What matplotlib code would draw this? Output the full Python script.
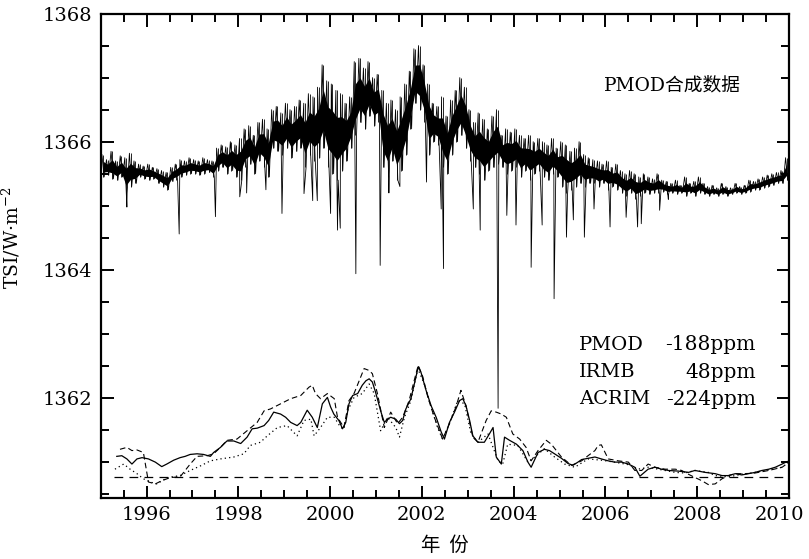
import numpy as np
import matplotlib
matplotlib.use("Agg")
import matplotlib.pyplot as plt
from matplotlib.ticker import MultipleLocator
from matplotlib.transforms import ScaledTranslation

plt.rcParams['font.family'] = ['DejaVu Serif', 'Noto Sans CJK SC']
plt.rcParams['mathtext.fontset'] = 'dejavuserif'

# PMOD composite: high / low of the daily band per 0.1 year
tsi_start = np.arange(1995.0, 2010.0, 0.1)
tsi_hi = [1365.80, 1365.72, 1365.85, 1365.70, 1365.78, 1365.75, 1365.82, 1365.70, 1365.65, 1365.62,
          1365.65, 1365.60, 1365.58, 1365.55, 1365.52, 1365.60, 1365.65, 1365.72, 1365.70, 1365.75,
          1365.72, 1365.70, 1365.75, 1365.72, 1365.70, 1365.90, 1365.95, 1365.92, 1366.00, 1365.95,
          1366.05, 1366.20, 1366.25, 1366.10, 1366.30, 1366.35, 1366.20, 1366.50, 1366.55, 1366.45,
          1366.60, 1366.50, 1366.55, 1366.65, 1366.60, 1366.75, 1366.70, 1366.85, 1367.20, 1366.95,
          1366.90, 1366.80, 1366.75, 1366.60, 1366.70, 1367.25, 1367.30, 1367.15, 1367.25, 1367.00,
          1367.05, 1366.80, 1366.60, 1366.65, 1366.50, 1366.70, 1366.90, 1367.10, 1367.45, 1367.50,
          1367.20, 1366.90, 1366.60, 1366.55, 1366.70, 1366.40, 1366.65, 1366.80, 1367.00, 1366.85,
          1366.50, 1366.30, 1366.45, 1366.35, 1366.20, 1366.40, 1366.50, 1366.10, 1366.20, 1366.15,
          1366.20, 1366.10, 1366.05, 1366.10, 1366.00, 1366.05, 1366.00, 1365.95, 1366.05, 1365.90,
          1366.00, 1365.95, 1365.85, 1365.90, 1366.00, 1365.80, 1365.75, 1365.72, 1365.70, 1365.65,
          1365.70, 1365.60, 1365.65, 1365.55, 1365.50, 1365.55, 1365.50, 1365.45, 1365.50, 1365.45,
          1365.42, 1365.50, 1365.40, 1365.38, 1365.35, 1365.40, 1365.32, 1365.45, 1365.35, 1365.38,
          1365.45, 1365.35, 1365.30, 1365.32, 1365.28, 1365.35, 1365.30, 1365.28, 1365.35, 1365.30,
          1365.32, 1365.40, 1365.38, 1365.42, 1365.45, 1365.48, 1365.50, 1365.52, 1365.55, 1365.75]
tsi_lo = [1365.45, 1365.48, 1365.42, 1365.40, 1365.45, 1365.20, 1365.30, 1365.35, 1365.45, 1365.42,
          1365.40, 1365.42, 1365.35, 1365.30, 1365.25, 1365.38, 1365.40, 1365.45, 1365.48, 1365.50,
          1365.50, 1365.48, 1365.50, 1365.52, 1365.45, 1365.55, 1365.60, 1365.50, 1365.55, 1365.45,
          1365.40, 1365.60, 1365.65, 1365.50, 1365.70, 1365.60, 1365.45, 1365.90, 1365.85, 1365.80,
          1365.90, 1365.75, 1365.85, 1365.90, 1365.60, 1365.80, 1365.70, 1365.75, 1365.90, 1365.60,
          1365.50, 1365.40, 1365.55, 1365.70, 1365.90, 1366.10, 1366.30, 1366.20, 1366.40, 1366.25,
          1366.30, 1365.60, 1365.45, 1365.70, 1365.40, 1365.55, 1365.80, 1366.20, 1366.60, 1366.50,
          1366.30, 1365.80, 1366.00, 1365.95, 1365.60, 1365.50, 1365.80, 1366.00, 1366.10, 1365.90,
          1365.70, 1365.60, 1365.50, 1365.40, 1365.55, 1365.60, 1365.65, 1365.60, 1365.50, 1365.55,
          1365.60, 1365.45, 1365.55, 1365.40, 1365.50, 1365.55, 1365.45, 1365.40, 1365.50, 1365.45,
          1365.30, 1365.20, 1365.25, 1365.30, 1365.35, 1365.30, 1365.35, 1365.35, 1365.30, 1365.35,
          1365.25, 1365.30, 1365.25, 1365.20, 1365.15, 1365.20, 1365.10, 1365.15, 1365.20, 1365.18,
          1365.20, 1365.20, 1365.22, 1365.18, 1365.20, 1365.18, 1365.20, 1365.15, 1365.20, 1365.15,
          1365.20, 1365.18, 1365.15, 1365.18, 1365.15, 1365.18, 1365.15, 1365.18, 1365.20, 1365.18,
          1365.20, 1365.22, 1365.25, 1365.25, 1365.28, 1365.30, 1365.32, 1365.35, 1365.35, 1365.40]

# sunspot dips in the daily series
dip_year = [1995.57, 1996.71, 1997.50, 1998.03, 1998.18, 1998.60, 1998.95, 1999.43, 1999.62, 1999.72,
            2000.01, 2000.16, 2000.22, 2000.56, 2001.09, 2001.28, 2001.52, 2002.10, 2002.42, 2002.47,
            2003.12, 2003.27, 2003.66, 2003.85, 2004.05, 2004.38, 2004.62, 2004.88, 2005.15, 2005.30,
            2005.54, 2005.75, 2006.10, 2006.45, 2006.70, 2006.78, 2007.18, 2007.37]
dip_val = [1364.98, 1364.56, 1364.83, 1365.14, 1365.20, 1365.25, 1364.88, 1365.19, 1365.08, 1365.08,
           1364.88, 1364.62, 1364.65, 1363.94, 1364.07, 1365.20, 1365.30, 1365.37, 1364.95, 1364.02,
           1364.95, 1364.62, 1361.84, 1364.85, 1364.70, 1364.04, 1364.70, 1363.55, 1364.51, 1364.78,
           1364.51, 1364.95, 1364.67, 1364.82, 1364.67, 1364.72, 1364.93, 1365.10]

# smoothed, shifted series (lower part)
pmod_year = [1995.35, 1995.46, 1995.57, 1995.68, 1995.79, 1995.90, 1996.04, 1996.19, 1996.33, 1996.44,
             1996.59, 1996.73, 1996.84, 1996.95, 1997.10, 1997.24, 1997.39, 1997.46, 1997.61, 1997.75,
             1997.90, 1998.05, 1998.19, 1998.30, 1998.41, 1998.56, 1998.66, 1998.77, 1998.92, 1999.03,
             1999.14, 1999.28, 1999.36, 1999.50, 1999.61, 1999.72, 1999.83, 1999.94, 2000.01, 2000.08,
             2000.19, 2000.27, 2000.34, 2000.41, 2000.49, 2000.60, 2000.70, 2000.78, 2000.85, 2000.92,
             2000.99, 2001.10, 2001.18, 2001.25, 2001.32, 2001.43, 2001.51, 2001.58, 2001.65, 2001.76,
             2001.87, 2001.92, 2001.98, 2002.09, 2002.20, 2002.31, 2002.42, 2002.49, 2002.60, 2002.71,
             2002.82, 2002.89, 2002.96, 2003.04, 2003.11, 2003.22, 2003.36, 2003.47, 2003.55, 2003.62,
             2003.73, 2003.80, 2003.91, 2004.06, 2004.20, 2004.31, 2004.38, 2004.53, 2004.67, 2004.78,
             2004.89, 2005.04, 2005.18, 2005.29, 2005.40, 2005.48, 2005.77, 2005.91, 2006.06, 2006.20,
             2006.35, 2006.50, 2006.64, 2006.75, 2006.93, 2007.08, 2007.22, 2007.37, 2007.59, 2007.81,
             2007.95, 2008.17, 2008.39, 2008.54, 2008.68, 2008.83, 2008.97, 2009.12, 2009.26, 2009.41,
             2009.56, 2009.70, 2009.85, 2009.96]
pmod_val = [1361.09, 1361.10, 1361.05, 1360.97, 1361.05, 1361.07, 1361.05, 1361.00, 1360.93, 1360.97,
            1361.03, 1361.07, 1361.09, 1361.12, 1361.13, 1361.12, 1361.09, 1361.15, 1361.23, 1361.33,
            1361.33, 1361.29, 1361.39, 1361.52, 1361.53, 1361.57, 1361.65, 1361.78, 1361.75, 1361.70,
            1361.62, 1361.57, 1361.62, 1361.81, 1361.70, 1361.54, 1361.91, 1362.01, 1361.86, 1361.75,
            1361.65, 1361.52, 1361.62, 1361.91, 1362.04, 1362.07, 1362.20, 1362.27, 1362.30, 1362.25,
            1362.09, 1361.80, 1361.62, 1361.67, 1361.70, 1361.67, 1361.60, 1361.65, 1361.83, 1361.99,
            1362.33, 1362.49, 1362.40, 1362.12, 1361.88, 1361.70, 1361.47, 1361.36, 1361.62, 1361.78,
            1361.96, 1361.99, 1361.88, 1361.65, 1361.41, 1361.31, 1361.31, 1361.44, 1361.54, 1361.08,
            1360.97, 1361.39, 1361.34, 1361.28, 1361.18, 1361.00, 1360.92, 1361.15, 1361.20, 1361.18,
            1361.13, 1361.06, 1360.98, 1360.95, 1361.00, 1361.04, 1361.08, 1361.05, 1361.02, 1361.00,
            1361.00, 1360.97, 1360.92, 1360.78, 1360.89, 1360.92, 1360.89, 1360.87, 1360.86, 1360.84,
            1360.87, 1360.84, 1360.82, 1360.79, 1360.79, 1360.82, 1360.80, 1360.82, 1360.84, 1360.87,
            1360.89, 1360.92, 1360.97, 1361.01]

acrim_year = [1995.42, 1995.57, 1995.68, 1995.79, 1995.93, 1996.04, 1996.19, 1996.33, 1996.52, 1996.73,
              1996.95, 1997.10, 1997.32, 1997.46, 1997.61, 1997.75, 1997.97, 1998.19, 1998.41, 1998.56,
              1998.70, 1998.92, 1999.14, 1999.36, 1999.54, 1999.61, 1999.68, 1999.79, 1999.94, 2000.09,
              2000.16, 2000.30, 2000.41, 2000.52, 2000.74, 2000.85, 2000.92, 2001.03, 2001.18, 2001.32,
              2001.47, 2001.58, 2001.72, 2001.87, 2001.92, 2002.02, 2002.13, 2002.27, 2002.45, 2002.60,
              2002.74, 2002.85, 2002.96, 2003.11, 2003.22, 2003.40, 2003.51, 2003.62, 2003.73, 2003.84,
              2003.98, 2004.13, 2004.27, 2004.38, 2004.53, 2004.71, 2004.82, 2005.04, 2005.26, 2005.48,
              2005.62, 2005.77, 2005.84, 2005.91, 2006.06, 2006.28, 2006.50, 2006.64, 2006.79, 2006.93,
              2007.08, 2007.30, 2007.52, 2007.66, 2007.81, 2007.95, 2008.10, 2008.24, 2008.39, 2008.54,
              2008.68, 2008.83, 2009.05, 2009.26, 2009.56, 2009.85, 2010.00]
acrim_val = [1361.20, 1361.23, 1361.18, 1361.19, 1361.15, 1360.69, 1360.66, 1360.71, 1360.76, 1360.77,
             1360.97, 1361.09, 1361.10, 1361.13, 1361.23, 1361.34, 1361.36, 1361.49, 1361.62, 1361.80,
             1361.83, 1361.91, 1361.99, 1362.04, 1362.17, 1362.20, 1362.07, 1361.99, 1362.07, 1361.99,
             1361.70, 1361.54, 1361.96, 1362.07, 1362.46, 1362.43, 1362.38, 1362.07, 1361.54, 1361.78,
             1361.60, 1361.70, 1361.96, 1362.38, 1362.51, 1362.33, 1362.01, 1361.70, 1361.36, 1361.60,
             1361.86, 1362.12, 1361.88, 1361.39, 1361.31, 1361.65, 1361.80, 1361.78, 1361.75, 1361.70,
             1361.44, 1361.36, 1361.23, 1361.02, 1361.18, 1361.34, 1361.28, 1361.08, 1360.95, 1361.02,
             1361.10, 1361.18, 1361.26, 1361.27, 1361.05, 1361.02, 1361.00, 1360.87, 1360.87, 1360.97,
             1360.92, 1360.89, 1360.89, 1360.87, 1360.81, 1360.76, 1360.71, 1360.65, 1360.66, 1360.74,
             1360.79, 1360.82, 1360.82, 1360.83, 1360.87, 1360.92, 1361.00]

irmb_year = [1995.31, 1995.50, 1995.64, 1995.79, 1995.93, 1996.08, 1996.22, 1996.41, 1996.55, 1996.73,
             1996.95, 1997.17, 1997.39, 1997.61, 1997.90, 1998.12, 1998.26, 1998.48, 1998.63, 1998.85,
             1999.06, 1999.28, 1999.43, 1999.58, 1999.65, 1999.79, 1999.94, 2000.09, 2000.23, 2000.30,
             2000.38, 2000.52, 2000.70, 2000.85, 2000.96, 2001.10, 2001.25, 2001.43, 2001.51, 2001.62,
             2001.76, 2001.91, 2002.05, 2002.20, 2002.34, 2002.45, 2002.60, 2002.78, 2002.93, 2003.07,
             2003.22, 2003.44, 2003.55, 2003.66, 2003.76, 2003.87, 2004.09, 2004.31, 2004.46, 2004.67,
             2004.89, 2005.11, 2005.33, 2005.62, 2005.91, 2006.20, 2006.50, 2006.71, 2006.93, 2007.22,
             2007.52, 2007.73, 2007.95, 2008.24, 2008.39, 2008.68, 2008.97, 2009.26, 2009.56, 2009.85,
             2010.00]
irmb_val = [1360.89, 1360.97, 1360.89, 1360.82, 1360.74, 1360.69, 1360.66, 1360.74, 1360.77, 1360.79,
            1360.87, 1360.94, 1361.02, 1361.05, 1361.08, 1361.13, 1361.26, 1361.31, 1361.41, 1361.54,
            1361.57, 1361.41, 1361.65, 1361.67, 1361.41, 1361.54, 1361.70, 1361.70, 1361.54, 1361.52,
            1361.80, 1362.01, 1362.07, 1362.22, 1362.07, 1361.49, 1361.70, 1361.54, 1361.39, 1361.70,
            1361.96, 1362.46, 1362.22, 1361.86, 1361.54, 1361.36, 1361.60, 1361.96, 1361.91, 1361.44,
            1361.31, 1361.44, 1361.23, 1361.02, 1360.97, 1361.28, 1361.26, 1361.00, 1361.08, 1361.21,
            1361.08, 1360.97, 1360.92, 1361.05, 1361.03, 1361.00, 1360.96, 1360.89, 1360.92, 1360.88,
            1360.84, 1360.83, 1360.87, 1360.84, 1360.79, 1360.77, 1360.81, 1360.84, 1360.88, 1360.92,
            1361.00]

ref_level = 1360.77
trend_names = ['PMOD', 'IRMB', 'ACRIM']
trend_text = ['-188ppm', '48ppm', '-224ppm']

# build the daily-looking zigzag and put the dips into it
zx = np.concatenate([tsi_start + 0.025, tsi_start + 0.075, np.array(dip_year)])
zy = np.concatenate([tsi_hi, tsi_lo, dip_val])
order = np.argsort(zx)
zx, zy = zx[order], zy[order]
hi = np.array(tsi_hi)
lo = np.array(tsi_lo)

fig = plt.figure(figsize=(8.09, 5.59), dpi=100)
ax = fig.add_axes([0.1245, 0.1091, 0.8508, 0.8667])

# daily band: dark core, thin high-low strokes and the spiky line
ax.fill_between(tsi_start + 0.05, lo + 0.22 * (hi - lo), hi - 0.3 * (hi - lo),
                color='black', lw=0)
ax.vlines(tsi_start + 0.05, lo, hi, color='black', lw=0.6)
ax.plot(zx, zy, color='black', lw=0.6)
ax.plot(pmod_year, pmod_val, color='black', lw=0.9)
ax.plot(acrim_year, acrim_val, color='black', lw=0.8, linestyle=(0, (5, 3)))
ax.plot(irmb_year, irmb_val, color='black', lw=0.9, linestyle=(0, (1, 2.5)))
ax.plot([1995.3, 2010], [ref_level, ref_level], color='black', lw=0.9, linestyle=(0, (7, 5)))

ax.set_xlim(1995, 2010)
ax.set_ylim(1360.44, 1368)
ax.xaxis.set_minor_locator(MultipleLocator(0.5))
ax.yaxis.set_major_locator(MultipleLocator(2))
ax.yaxis.set_minor_locator(MultipleLocator(0.5))
ax.set_xticks([1996, 1998, 2000, 2002, 2004, 2006, 2008, 2010])
ax.tick_params(which='both', direction='in', top=True, right=True, width=1.4, labelsize=14)
ax.tick_params(which='major', length=9, pad=6)
ax.tick_params(which='minor', length=5.5)
for s in ax.spines.values():
    s.set_linewidth(1.6)

# last year label sits a bit left of its tick, as in the original
last = ax.get_xticklabels()[-1]
last.set_transform(last.get_transform() + ScaledTranslation(-0.10, 0, fig.dpi_scale_trans))

ax.set_xlabel('年  份', fontsize=14, family=['Noto Sans CJK SC', 'DejaVu Serif'], labelpad=8)
ax.set_ylabel('TSI/W·m$^{-2}$', fontsize=13.5)
ax.yaxis.set_label_coords(-0.114, 0.537)

ax.text(0.83, 0.852, 'PMOD合成数据', transform=ax.transAxes, ha='center', va='center',
        fontsize=13.5, family=['DejaVu Serif', 'Noto Sans CJK SC'])

ys = [0.316, 0.26, 0.204]
for name, txt, yy in zip(trend_names, trend_text, ys):
    ax.text(0.695, yy, name, transform=ax.transAxes, ha='left', va='center', fontsize=14)
    ax.text(0.952, yy, txt, transform=ax.transAxes, ha='right', va='center', fontsize=14.5)

fig.savefig('out.png', dpi=100)
